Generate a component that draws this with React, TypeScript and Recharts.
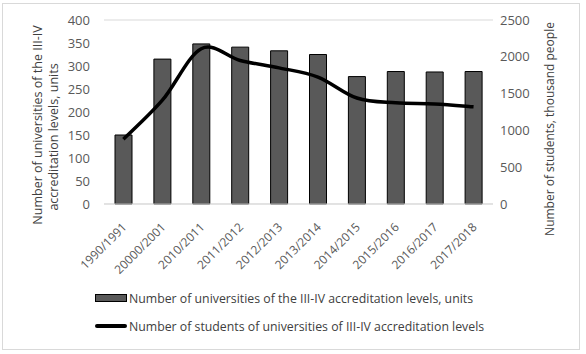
import { ComposedChart, Bar, Line, XAxis, YAxis, CartesianGrid, Legend, Label } from 'recharts';

const years = ['1990/1991', '20000/2001', '2010/2011', '2011/2012', '2012/2013', '2013/2014', '2014/2015', '2015/2016', '2016/2017', '2017/2018'];
const universities = [150, 315, 348, 341, 333, 325, 277, 288, 287, 288];
const students = [880, 1410, 2110, 1950, 1850, 1725, 1440, 1375, 1360, 1320];
const leftTicks = [0, 50, 100, 150, 200, 250, 300, 350, 400];
const rightTicks = [0, 500, 1000, 1500, 2000, 2500];

const barName = 'Number of universities of the III-IV accreditation levels, units';
const lineName = 'Number of students of universities of III-IV accreditation levels';

const data = years.map((name, i) => ({ name, universities: universities[i], students: students[i] }));

const FONT = '"Open Sans", sans-serif';

// spreadsheet-style smoothed line (catmull-rom through the points)
const smoothCurve: any = (ctx: any) => {
    let pts: number[][] = [];
    return {
        areaStart() {},
        areaEnd() {},
        lineStart() { pts = []; },
        point(x: number, y: number) { pts.push([+x, +y]); },
        lineEnd() {
            if (!pts.length) return;
            ctx.moveTo(pts[0][0], pts[0][1]);
            for (let i = 0; i < pts.length - 1; i++) {
                const p0 = pts[Math.max(i - 1, 0)];
                const p1 = pts[i];
                const p2 = pts[i + 1];
                const p3 = pts[Math.min(i + 2, pts.length - 1)];
                ctx.bezierCurveTo(
                    p1[0] + (p2[0] - p0[0]) / 6, p1[1] + (p2[1] - p0[1]) / 6,
                    p2[0] - (p3[0] - p1[0]) / 6, p2[1] - (p3[1] - p1[1]) / 6,
                    p2[0], p2[1],
                );
            }
        },
    };
};

function XTick(props: any) {
    const { x, y, payload } = props;
    return (
        <g transform={`translate(${x + 4},${y + 16})`}>
            <text textAnchor="end" transform="rotate(-45)" fontSize={12} fill="#595959" fontFamily={FONT}>
                {payload.value}
            </text>
        </g>
    );
}

function ChartLegend() {
    return (
        <div style={{ fontFamily: FONT, fontSize: 12.3, color: '#404040', paddingLeft: 95 }}>
            <div style={{ display: 'flex', alignItems: 'center', height: 28 }}>
                <span style={{ display: 'inline-block', width: 30, height: 6, background: '#595959', border: '1px solid #000', marginRight: 2 }} />
                {barName}
            </div>
            <div style={{ display: 'flex', alignItems: 'center', height: 28 }}>
                <span style={{ display: 'inline-block', width: 32, height: 4, background: '#000', borderRadius: 2, marginRight: 2 }} />
                {lineName}
            </div>
        </div>
    );
}

export default function App() {
    return (
        <div style={{ position: 'absolute', left: 0, top: 0, width: 586, height: 354, background: '#fff' }}>
            <div style={{ position: 'absolute', left: 2, top: 3, width: 576, height: 345, border: '1px solid #d9d9d9' }} />
            <div style={{ position: 'absolute', left: 0, top: 0 }}>
                <ComposedChart width={586} height={354} data={data} margin={{ top: 20, right: 0, left: 0, bottom: 14 }}>
                    <CartesianGrid vertical={false} stroke="#d9d9d9" />
                    <XAxis dataKey="name" height={80} tickLine={false} axisLine={{ stroke: '#d9d9d9' }} interval={0} tick={<XTick />} />
                    <YAxis
                        yAxisId="left"
                        width={104}
                        domain={[0, 400]}
                        ticks={leftTicks}
                        axisLine={false}
                        tickLine={false}
                        tickSize={0}
                        tickMargin={14}
                        tick={{ fill: '#595959', fontSize: 13, fontFamily: FONT }}
                    >
                        <Label
                            content={() => (
                                <g fontSize={12.5} fill="#404040" fontFamily={FONT} textAnchor="middle">
                                    <text transform="translate(42,125) rotate(-90)">Number of universities of the III-IV</text>
                                    <text transform="translate(58,137) rotate(-90)">accreditation levels, units</text>
                                </g>
                            )}
                        />
                    </YAxis>
                    <YAxis
                        yAxisId="right"
                        orientation="right"
                        width={93}
                        domain={[0, 2500]}
                        ticks={rightTicks}
                        axisLine={false}
                        tickLine={false}
                        tickSize={0}
                        tickMargin={7}
                        tick={{ fill: '#595959', fontSize: 13, fontFamily: FONT, textAnchor: 'start' }}
                    >
                        <Label
                            content={() => (
                                <text transform="translate(554,129) rotate(-90)" textAnchor="middle" fontSize={12} fill="#404040" fontFamily={FONT}>
                                    Number of students, thousand people
                                </text>
                            )}
                        />
                    </YAxis>
                    <Legend verticalAlign="bottom" align="left" content={<ChartLegend />} wrapperStyle={{ height: 56 }} />
                    <Bar yAxisId="left" dataKey="universities" name={barName} fill="#595959" stroke="#000" strokeWidth={1} barSize={17} isAnimationActive={false} />
                    <Line yAxisId="right" type={smoothCurve} dataKey="students" name={lineName} stroke="#000" strokeWidth={3.5} dot={false} isAnimationActive={false} />
                </ComposedChart>
            </div>
        </div>
    );
}
